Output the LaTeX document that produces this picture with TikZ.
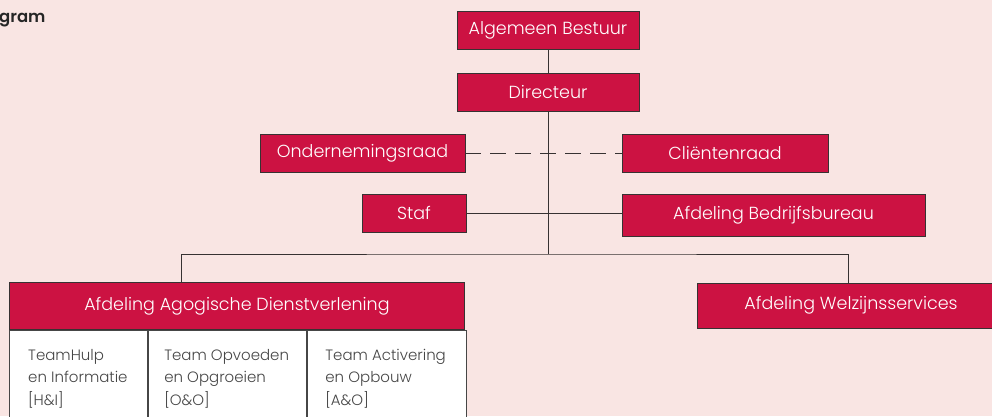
\documentclass[tikz,border=0pt]{standalone}
\usepackage{fontspec}
\setmainfont{Poppins}[UprightFont=* Light, BoldFont=* SemiBold]
\usetikzlibrary{positioning}
\definecolor{orgred}{RGB}{204,18,66}
\definecolor{orgbg}{RGB}{249,229,227}
\definecolor{orgline}{RGB}{55,50,50}
\definecolor{orgtext}{RGB}{70,70,70}

\begin{document}
\begin{tikzpicture}[x=1pt, y=-1pt, font=\fontsize{17.5}{21}\selectfont,
    orgbox/.style={rectangle, draw=orgline, line width=0.9pt, fill=orgred, text=white, inner sep=0pt},
    cellbox/.style={rectangle, draw=orgtext, line width=1.1pt, fill=white, minimum height=100pt, inner sep=0pt},
    celltext/.style={align=left, text=orgtext, inner sep=0pt, font=\fontsize{15}{22.5}\selectfont},
    link/.style={draw=orgline, line width=0.9pt}]
    % Background and page size
    \fill[orgbg] (0,0) rectangle (992,416);
    \useasboundingbox (0,0) rectangle (992,416);

    % Title (cut off at the left edge)
    \node[anchor=base west, inner sep=0pt, font=\fontsize{16.5}{18}\bfseries, text=black!85] (title) at (-1,22) {gram};

    % Define nodes
    \node[orgbox, minimum width=182pt, minimum height=38pt] (ab) at (548,30) {Algemeen Bestuur};
    \node[orgbox, minimum width=182pt, minimum height=38pt] (dir) at (548,92) {Directeur};
    \node[orgbox, minimum width=205pt, minimum height=38pt] (or) at (362.5,153) {Ondernemingsraad};
    \node[orgbox, minimum width=206pt, minimum height=38pt] (cr) at (725,153) {Cliëntenraad};
    \node[orgbox, minimum width=104pt, minimum height=38pt] (staf) at (414,213) {Staf};
    \node[orgbox, minimum width=303pt, minimum height=42pt] (bb) at (773.5,215) {Afdeling Bedrijfsbureau};
    \node[orgbox, minimum width=308pt, minimum height=45pt] (ws) at (851,305.5) {Afdeling Welzijnsservices};

    % Team cells below the department header
    \node[cellbox, minimum width=138pt, anchor=north west] (hicell) at (9,330) {};
    \node[cellbox, minimum width=158pt, anchor=north west] (oocell) at (hicell.north east) {};
    \node[cellbox, minimum width=159pt, anchor=north west] (aocell) at (oocell.north east) {};
    \node[orgbox, minimum width=455pt, minimum height=47pt, anchor=south west] (ad) at (hicell.north west) {Afdeling Agogische Dienstverlening};

    \node[celltext, anchor=north west] (hi) at ([xshift=19pt, yshift=-19pt]hicell.north west) {TeamHulp\\en Informatie\\{[}H\&I{]}};
    \node[celltext, anchor=north west] (oo) at ([xshift=16pt, yshift=-19pt]oocell.north west) {Team Opvoeden\\en Opgroeien\\{[}O\&O{]}};
    \node[celltext, anchor=north west] (ao) at ([xshift=18pt, yshift=-19pt]aocell.north west) {Team Activering\\en Opbouw\\{[}A\&O{]}};

    % Define lines
    \coordinate (split) at (548,254);
    \coordinate (adtop) at (181,283);
    \coordinate (wstop) at (848,283);
    \draw[link] (ab) -- (dir);
    \draw[link] (dir.south) -- (split);
    \draw[link] (adtop) |- (split) -| (wstop);
    \draw[link, dash pattern=on 16pt off 9pt] (or.east) -- (cr.west);
    \draw[link] (staf.east) -- (staf.east -| bb.west);

\end{tikzpicture}
\end{document}
